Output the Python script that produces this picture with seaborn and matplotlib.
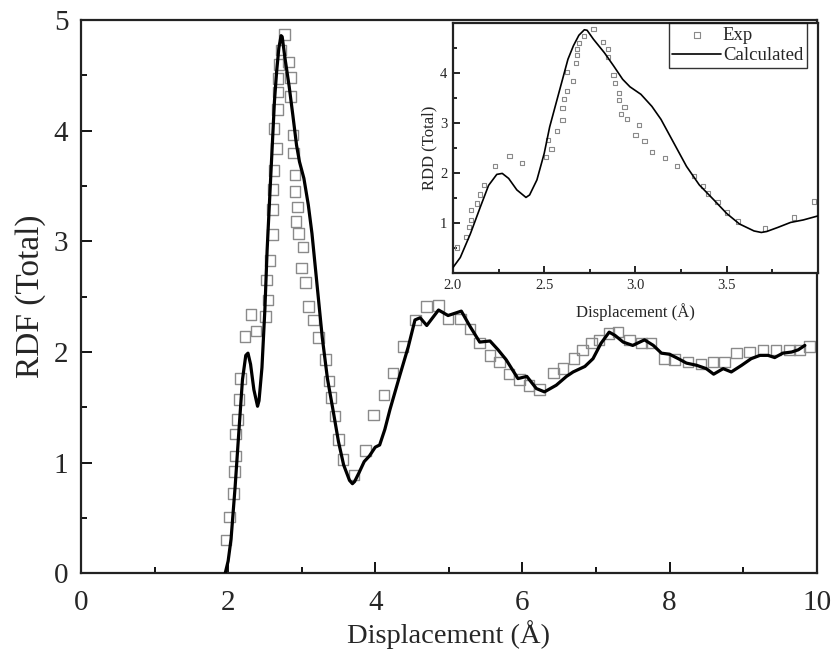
import matplotlib
matplotlib.use("Agg")
import matplotlib.pyplot as plt
from matplotlib.ticker import MultipleLocator
import seaborn as sns
import pandas as pd

exp_x = [1.97, 2.02, 2.07, 2.09, 2.10, 2.10, 2.13, 2.15, 2.17, 2.23, 2.31, 2.38,
         2.51, 2.52, 2.54, 2.57, 2.60, 2.60, 2.61, 2.625, 2.625, 2.66, 2.675, 2.68,
         2.68, 2.69, 2.72, 2.77, 2.82, 2.85, 2.85, 2.88, 2.89, 2.91, 2.91, 2.92,
         2.94, 2.955, 3.00, 3.02, 3.05, 3.09, 3.16, 3.23, 3.32, 3.37, 3.40, 3.45,
         3.50, 3.56, 3.71, 3.87, 3.98, 4.12, 4.24, 4.38, 4.55, 4.70, 4.86, 4.99,
         5.16, 5.29, 5.42, 5.56, 5.69, 5.82, 5.96, 6.09, 6.23, 6.42, 6.55, 6.70,
         6.82, 6.94, 7.04, 7.18, 7.30, 7.46, 7.62, 7.75, 7.93, 8.07, 8.25, 8.43,
         8.59, 8.75, 8.91, 9.09, 9.27, 9.45, 9.63, 9.77, 9.90]
exp_y = [0.30, 0.51, 0.72, 0.92, 1.06, 1.26, 1.39, 1.57, 1.76, 2.14, 2.34, 2.19,
         2.32, 2.65, 2.47, 2.83, 3.06, 3.29, 3.47, 3.64, 4.02, 3.84, 4.19, 4.35,
         4.47, 4.60, 4.73, 4.87, 4.62, 4.48, 4.31, 3.96, 3.80, 3.60, 3.45, 3.18,
         3.31, 3.07, 2.76, 2.95, 2.63, 2.41, 2.29, 2.13, 1.93, 1.74, 1.59, 1.42,
         1.21, 1.03, 0.89, 1.11, 1.43, 1.61, 1.81, 2.05, 2.29, 2.41, 2.42, 2.30,
         2.30, 2.21, 2.08, 1.97, 1.91, 1.80, 1.75, 1.70, 1.66, 1.81, 1.85, 1.94,
         2.02, 2.08, 2.11, 2.17, 2.18, 2.11, 2.08, 2.08, 1.94, 1.93, 1.91, 1.89,
         1.91, 1.91, 1.99, 2.00, 2.02, 2.02, 2.02, 2.02, 2.05]

# Calculated RDF curve
calc_x = [1.96, 2.00, 2.04, 2.095, 2.15, 2.195, 2.24, 2.27, 2.305, 2.35, 2.40, 2.42,
          2.46, 2.50, 2.53, 2.57, 2.61, 2.63, 2.66, 2.69, 2.72, 2.735, 2.77, 2.83,
          2.88, 2.93, 2.97, 3.03, 3.09, 3.14, 3.21, 3.28, 3.35, 3.43, 3.50, 3.57,
          3.65, 3.69, 3.72, 3.78, 3.85, 3.92, 4.00, 4.06, 4.13, 4.20, 4.33, 4.45,
          4.54, 4.61, 4.70, 4.86, 4.99, 5.17, 5.29, 5.42, 5.56, 5.67, 5.78, 5.94,
          6.06, 6.19, 6.30, 6.46, 6.60, 6.69, 6.85, 6.96, 7.07, 7.18, 7.26, 7.37,
          7.50, 7.66, 7.78, 7.89, 8.00, 8.12, 8.23, 8.37, 8.50, 8.60, 8.73, 8.84,
          8.98, 9.11, 9.23, 9.34, 9.43, 9.54, 9.66, 9.75, 9.84]
calc_y = [0.00, 0.11, 0.31, 0.78, 1.32, 1.75, 1.97, 1.99, 1.89, 1.66, 1.51, 1.56,
          1.86, 2.39, 2.92, 3.46, 4.00, 4.27, 4.54, 4.75, 4.86, 4.85, 4.67, 4.40,
          4.14, 3.87, 3.72, 3.57, 3.33, 3.07, 2.60, 2.13, 1.76, 1.46, 1.19, 0.98,
          0.84, 0.81, 0.83, 0.91, 1.01, 1.06, 1.14, 1.16, 1.30, 1.48, 1.78, 2.05,
          2.29, 2.31, 2.24, 2.38, 2.33, 2.37, 2.23, 2.09, 2.10, 2.02, 1.93, 1.76,
          1.78, 1.67, 1.64, 1.70, 1.78, 1.82, 1.87, 1.94, 2.08, 2.18, 2.15, 2.09,
          2.06, 2.11, 2.06, 1.99, 1.98, 1.94, 1.90, 1.88, 1.85, 1.80, 1.85, 1.82,
          1.88, 1.94, 1.97, 1.97, 1.95, 1.99, 2.00, 2.02, 2.06]

exp_df = pd.DataFrame({"x": exp_x, "y": exp_y})
calc_df = pd.DataFrame({"x": calc_x, "y": calc_y})

sns.set_style("white")
plt.rcParams["font.family"] = ["Liberation Serif", "DejaVu Serif"]

fig = plt.figure(figsize=(8.35, 6.5), dpi=100)
ax = fig.add_axes([0.097, 0.118, 0.881, 0.851])

sns.scatterplot(data=exp_df, x="x", y="y", marker="s", s=58, facecolor="none",
                edgecolor="#8a8a8a", linewidth=1.0, ax=ax, zorder=2)
sns.lineplot(data=calc_df, x="x", y="y", color="black", linewidth=2.3,
             sort=False, estimator=None, ax=ax, zorder=3)

ax.set_xlim(0, 10)
ax.set_ylim(0, 5)
ax.xaxis.set_major_locator(MultipleLocator(2))
ax.xaxis.set_minor_locator(MultipleLocator(1))
ax.yaxis.set_major_locator(MultipleLocator(1))
ax.yaxis.set_minor_locator(MultipleLocator(0.5))
ax.tick_params(which="both", direction="in", bottom=True, left=True, top=False, right=False,
               width=1.3, color="black")
ax.tick_params(which="major", length=8, labelsize=21)
ax.tick_params(axis="x", which="major", pad=12)
ax.tick_params(axis="y", which="major", pad=9)
ax.tick_params(which="minor", length=4.5)
for sp in ax.spines.values():
    sp.set_linewidth(1.6)
    sp.set_color("#222222")
ax.set_xlabel("Displacement (Å)", fontsize=20.5, labelpad=3)
ax.set_ylabel("RDF (Total)", fontsize=24, labelpad=6)

# inset: zoom on the first peak
ins = fig.add_axes([0.5425, 0.58, 0.437, 0.385])
sns.scatterplot(data=exp_df, x="x", y="y", marker="s", s=9, facecolor="none",
                edgecolor="#8a8a8a", linewidth=0.8, ax=ins, zorder=2, label="Exp")
sns.lineplot(data=calc_df, x="x", y="y", color="black", linewidth=1.2,
             sort=False, estimator=None, ax=ins, zorder=3, label="Calculated")
ins.set_xlim(2.0, 4.0)
ins.set_ylim(0, 5)
ins.set_xticks([2.0, 2.5, 3.0, 3.5])
ins.set_yticks([1, 2, 3, 4])
ins.xaxis.set_minor_locator(MultipleLocator(0.25))
ins.yaxis.set_minor_locator(MultipleLocator(0.5))
ins.tick_params(which="both", direction="in", bottom=True, left=True, top=False, right=False,
                width=1.2, color="black")
ins.tick_params(which="major", length=5, labelsize=10.5, pad=4)
ins.tick_params(which="minor", length=3)
for sp in ins.spines.values():
    sp.set_linewidth(1.6)
    sp.set_color("#222222")
ins.set_xlabel("Displacement (Å)", fontsize=12, labelpad=8)
ins.set_ylabel("RDD (Total)", fontsize=12, labelpad=2)

leg = ins.legend(loc="upper right", bbox_to_anchor=(0.97, 1.0), borderaxespad=0,
                 fontsize=13.5, frameon=True, fancybox=False, edgecolor="black",
                 handlelength=2.6, handletextpad=0.1, borderpad=0.2,
                 labelspacing=0.2, markerscale=1.4)
leg.get_frame().set_linewidth(1.0)

fig.savefig("out.png", dpi=100)
